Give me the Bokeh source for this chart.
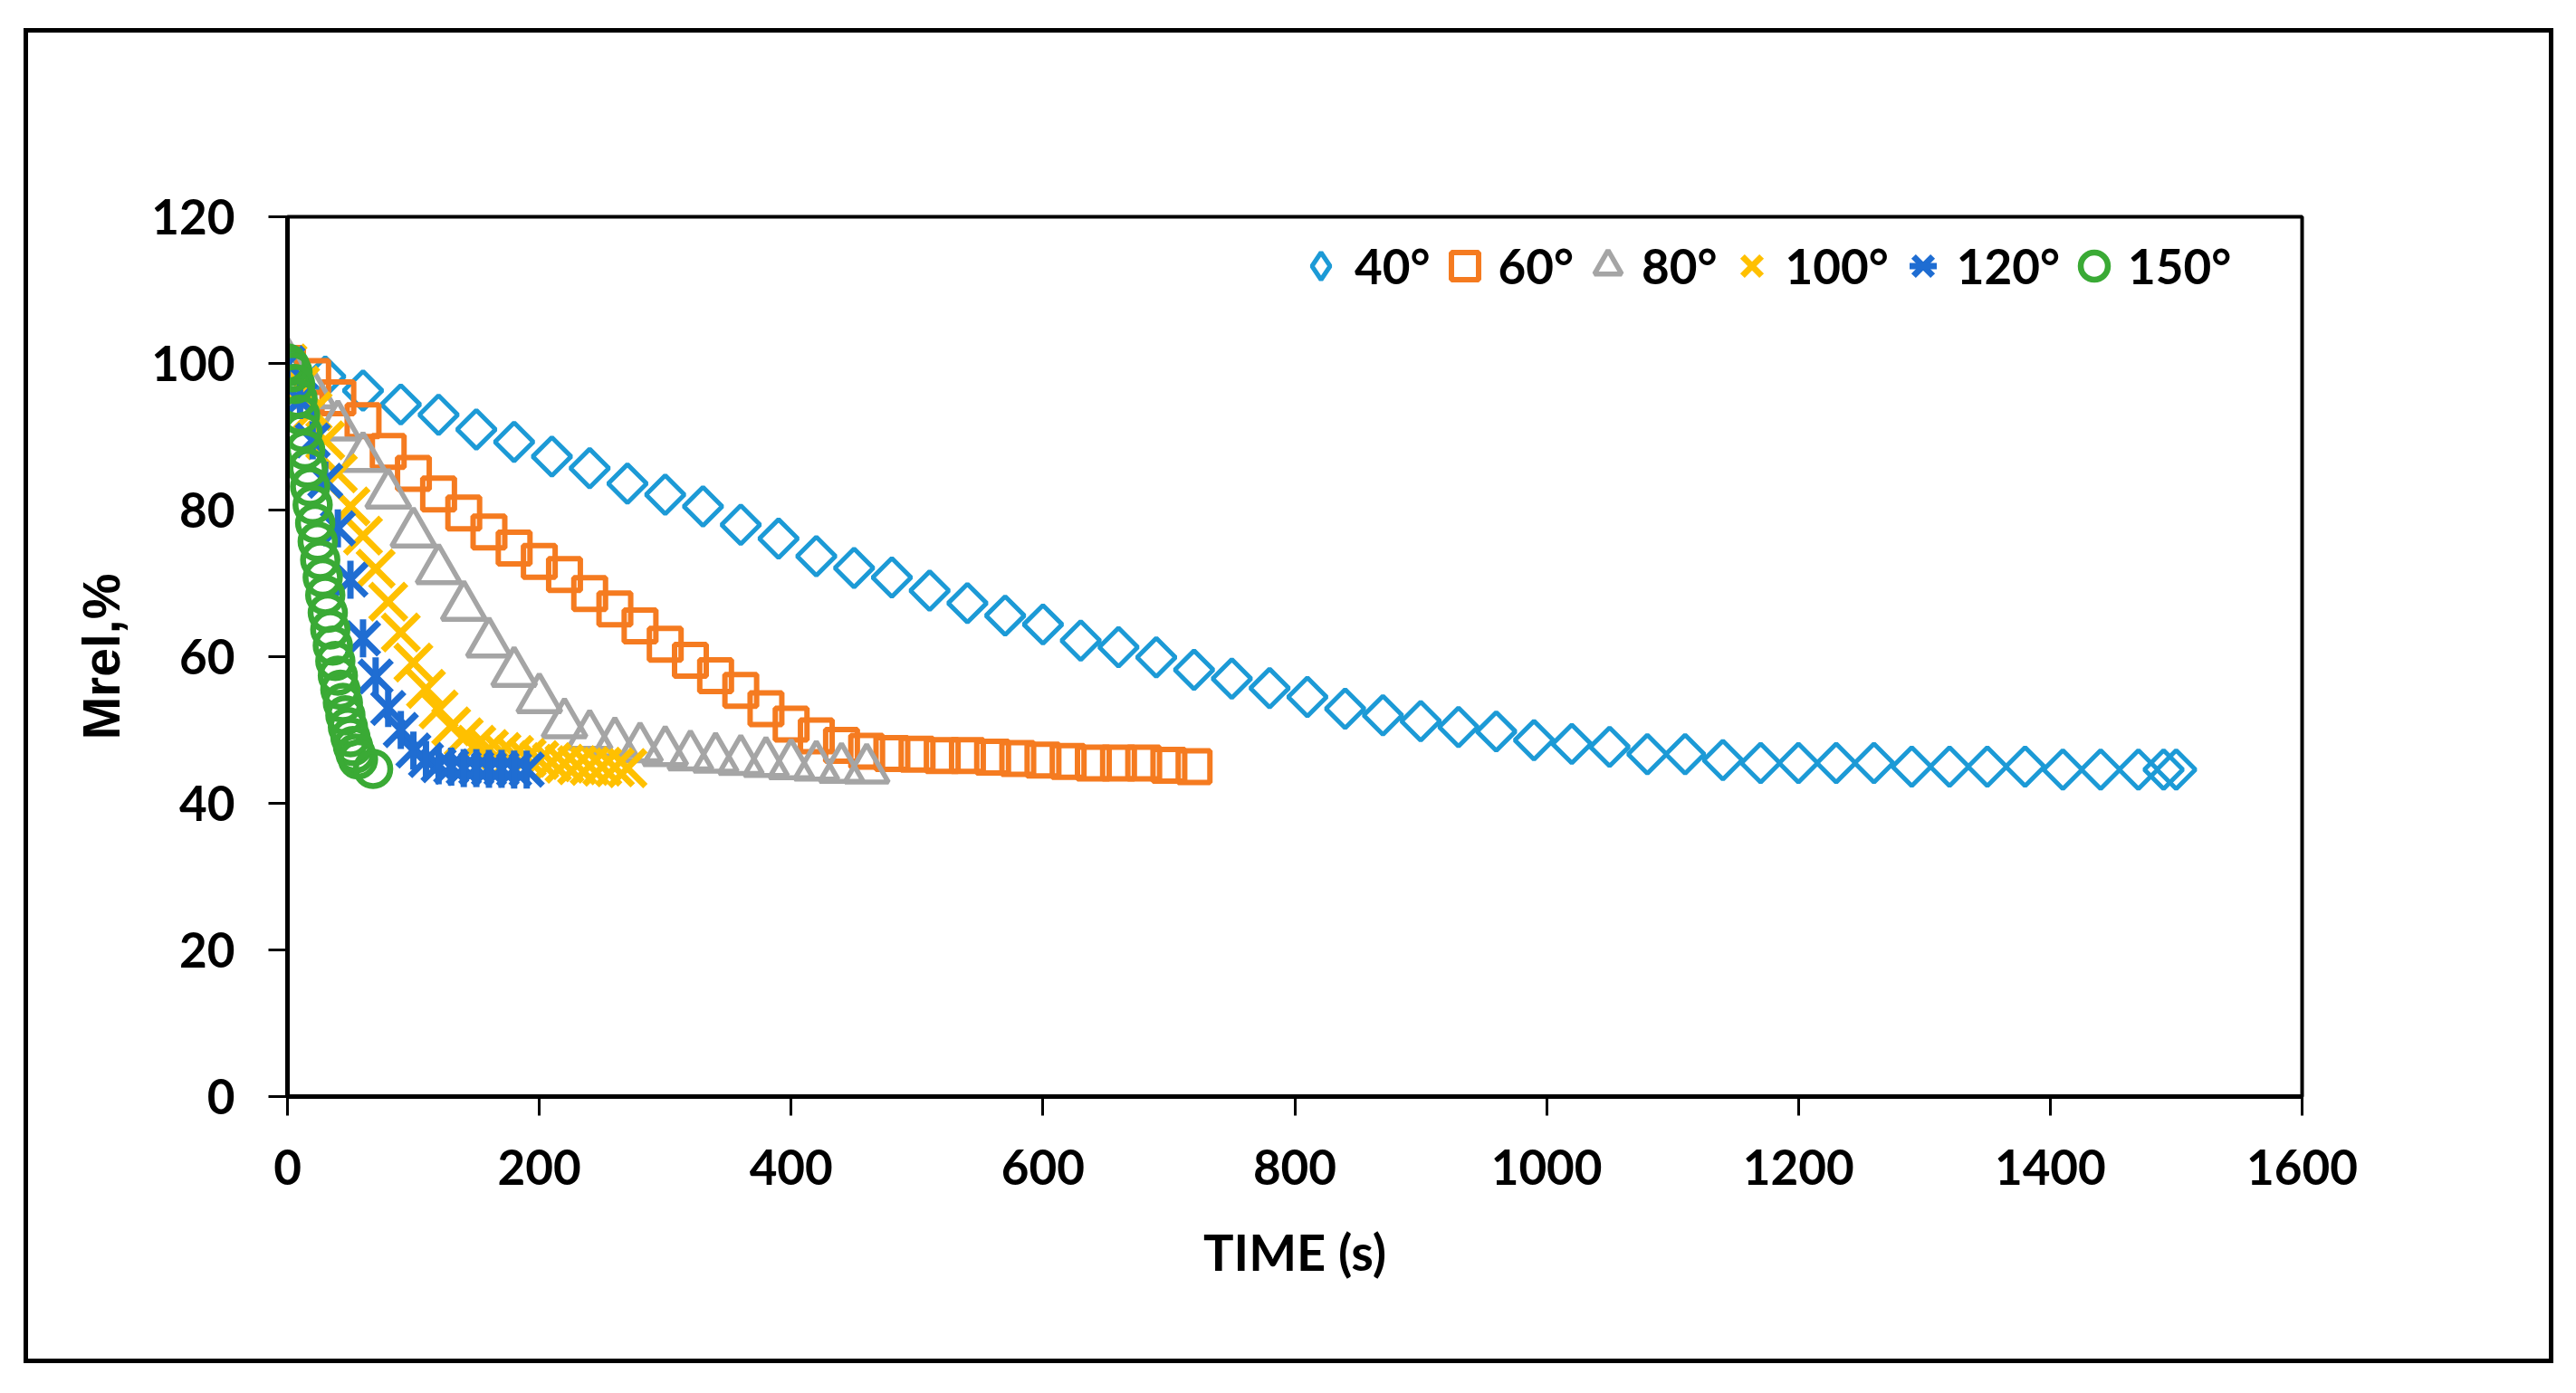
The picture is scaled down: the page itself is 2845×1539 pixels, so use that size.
import numpy as np
from bokeh.plotting import figure
from bokeh.models import Range1d, Legend, LegendItem, FixedTicker, CDSView, IndexFilter, ColumnDataSource
from bokeh.embed import file_html
from bokeh.resources import INLINE

# ---------------- data ----------------
time_40 = [0, 30, 60, 90, 120, 150, 180, 210, 240, 270, 300, 330, 360, 390, 420, 450,
           480, 510, 540, 570, 600, 630, 660, 690, 720, 750, 780, 810, 840, 870, 900,
           930, 960, 990, 1020, 1050, 1080, 1110, 1140, 1170, 1200, 1230, 1260, 1290,
           1320, 1350, 1380, 1410, 1440, 1470, 1490, 1500]
mrel_40 = [100, 98.2, 96.3, 94.4, 93.0, 91.0, 89.3, 87.3, 85.7, 83.6, 82.1, 80.5, 78.0,
           76.1, 73.7, 72.1, 70.8, 69.0, 67.3, 65.6, 64.4, 62.2, 61.3, 59.9, 58.2, 57.0,
           55.7, 54.5, 52.9, 52.0, 51.2, 50.4, 49.8, 48.6, 48.1, 47.7, 46.7, 46.7, 45.9,
           45.5, 45.5, 45.5, 45.5, 45.0, 45.0, 45.0, 45.0, 44.6, 44.6, 44.6, 44.6, 44.6]

time_60 = [0, 20, 40, 60, 80, 100, 120, 140, 160, 180, 200, 220, 240, 260, 280, 300,
           320, 340, 360, 380, 400, 420, 440, 460, 480, 500, 520, 540, 560, 580, 600,
           620, 640, 660, 680, 700, 720]
mrel_60 = [100, 98.2, 95.3, 92.2, 88.0, 85.0, 82.2, 79.6, 77.0, 74.8, 73.0, 71.2, 68.6,
           66.5, 64.2, 61.7, 59.5, 57.4, 55.4, 52.9, 50.8, 49.2, 47.9, 47.1, 46.8, 46.7,
           46.5, 46.5, 46.3, 46.1, 45.9, 45.7, 45.5, 45.5, 45.5, 45.2, 45.0]

time_80 = [0, 20, 40, 60, 80, 100, 120, 140, 160, 180, 200, 220, 240, 260, 280, 300,
           320, 340, 360, 380, 400, 420, 440, 460]
mrel_80 = [100, 95.8, 91.4, 87.1, 82.1, 76.8, 71.8, 66.8, 61.8, 57.8, 54.2, 50.8, 49.2,
           48.2, 47.5, 47.0, 46.4, 46.1, 45.8, 45.5, 45.2, 45.0, 44.7, 44.6]

time_100 = [0, 10, 20, 30, 40, 50, 60, 70, 80, 90, 100, 110, 120, 130, 140, 150, 160,
            170, 180, 190, 200, 210, 220, 230, 240, 250, 260, 270]
mrel_100 = [100, 97.0, 93.5, 89.5, 85.0, 80.5, 76.5, 72.0, 67.5, 63.3, 59.2, 55.6, 52.8,
            50.5, 49.0, 48.0, 47.4, 47.0, 46.6, 46.2, 45.9, 45.6, 45.4, 45.2, 45.1, 45.0,
            44.9, 44.8]

time_120 = [0, 10, 20, 30, 40, 50, 60, 70, 80, 90, 100, 110, 120, 130, 140, 150, 160,
            170, 180, 190]
mrel_120 = [100, 95.0, 89.5, 84.0, 77.5, 70.5, 62.5, 57.3, 53.0, 50.0, 47.2, 45.9, 45.2,
            45.0, 44.8, 44.8, 44.7, 44.7, 44.6, 44.6]

time_150 = [0, 2, 4, 6, 8, 10, 12, 14, 16, 18, 20, 22, 24, 26, 28, 30, 32, 34, 36, 38,
            40, 42, 44, 46, 48, 50, 52, 54, 56, 68]
mrel_150 = [100, 99.6, 98.8, 97.2, 95.2, 93.0, 90.6, 88.2, 85.7, 83.2, 80.7, 78.2, 75.7,
            73.2, 70.8, 68.4, 66.0, 63.7, 61.5, 59.4, 57.4, 55.5, 53.7, 52.0, 50.4, 49.0,
            47.8, 46.8, 46.0, 44.7]

labels = ["40°", "60°", "80°", "100°", "120°", "150°"]
x_ticks = [0, 200, 400, 600, 800, 1000, 1200, 1400, 1600]
y_ticks = [0, 20, 40, 60, 80, 100, 120]

# ---------------- styles ----------------
C40, C60, C80 = "#1C9AD6", "#F57B20", "#A5A5A5"
C100, C120, C150 = "#FFC000", "#1F6DD2", "#3AAA35"
TICK_FONT = "Lato"

p = figure(width=2794, height=1475, output_backend="svg", toolbar_location=None,
           x_range=Range1d(0, 1600), y_range=Range1d(0, 120),
           min_border_left=286, min_border_right=283,
           min_border_top=203, min_border_bottom=300,
           background_fill_color="white", border_fill_color="white")
p.margin = (31, 0, 0, 26)
p.styles = {"border": "5px solid black"}

p.xgrid.visible = False
p.ygrid.visible = False
p.outline_line_color = "black"
p.outline_line_width = 4

p.xaxis.ticker = FixedTicker(ticks=x_ticks)
p.yaxis.ticker = FixedTicker(ticks=y_ticks)
for ax in (p.xaxis[0], p.yaxis[0]):
    ax.axis_line_color = "black"
    ax.axis_line_width = 5
    ax.major_tick_line_color = "black"
    ax.major_tick_line_width = 3
    ax.major_tick_out = 21
    ax.major_tick_in = 0
    ax.minor_tick_line_color = None
    ax.major_label_text_font = TICK_FONT
    ax.major_label_text_font_style = "bold"
    ax.major_label_text_font_size = "53px"
    ax.major_label_text_color = "black"

p.xaxis.major_label_standoff = 37
p.yaxis.major_label_standoff = 37

p.xaxis.axis_label = "TIME (s)"
p.xaxis.axis_label_text_font = TICK_FONT
p.xaxis.axis_label_text_font_style = "bold"
p.xaxis.axis_label_text_font_size = "56px"
p.xaxis.axis_label_text_color = "black"
p.xaxis.axis_label_standoff = 37

p.yaxis.axis_label = "Mrel,%"
p.yaxis.axis_label_text_font = "Liberation Sans"
p.yaxis.axis_label_text_font_style = "bold"
p.yaxis.axis_label_text_font_size = "57px"
p.yaxis.axis_label_text_color = "black"
p.yaxis.axis_label_standoff = 20

# ---------------- series (Excel draw order) ----------------
src40 = ColumnDataSource(data=dict(t=time_40, m=mrel_40))
# legend key for the 40° series: a diamond drawn only on the first 40° point
r40_key = p.scatter("t", "m", source=src40, view=CDSView(filter=IndexFilter([0])),
                    marker="diamond", size=30, line_color=C40, line_width=5,
                    fill_color=None)
r40 = p.scatter("t", "m", source=src40, marker="square", angle=np.pi / 4, size=30,
                line_color=C40, line_width=5, fill_color=None)
r60 = p.scatter(time_60, mrel_60, marker="square", size=35,
                line_color=C60, line_width=6, fill_color=None)
r80 = p.scatter(time_80, mrel_80, marker="triangle", size=48,
                line_color=C80, line_width=5.5, fill_color=None)
r100 = p.scatter(time_100, mrel_100, marker="x", size=56,
                 line_color=C100, line_width=7)
r120a = p.scatter(time_120, mrel_120, marker="x", size=50,
                  line_color=C120, line_width=7)
r120b = p.scatter(time_120, mrel_120, marker="dash", angle=np.pi / 2, size=42,
                  line_color=C120, line_width=7)
r150 = p.scatter(time_150, mrel_150, marker="circle", size=38,
                 line_color=C150, line_width=6.5, fill_color=None)

legend = Legend(
    items=[LegendItem(label=labels[0], renderers=[r40_key]),
           LegendItem(label=labels[1], renderers=[r60]),
           LegendItem(label=labels[2], renderers=[r80]),
           LegendItem(label=labels[3], renderers=[r100]),
           LegendItem(label=labels[4], renderers=[r120a, r120b]),
           LegendItem(label=labels[5], renderers=[r150])],
    orientation="horizontal", location=(1104, 880),
    glyph_width=75, glyph_height=75, label_standoff=0, spacing=0,
    padding=0, margin=0, border_line_color=None,
    background_fill_alpha=0,
    label_text_font=TICK_FONT, label_text_font_style="bold",
    label_text_font_size="53px", label_text_color="black")
p.add_layout(legend)

open("out.html", "w").write(file_html(p, INLINE))
